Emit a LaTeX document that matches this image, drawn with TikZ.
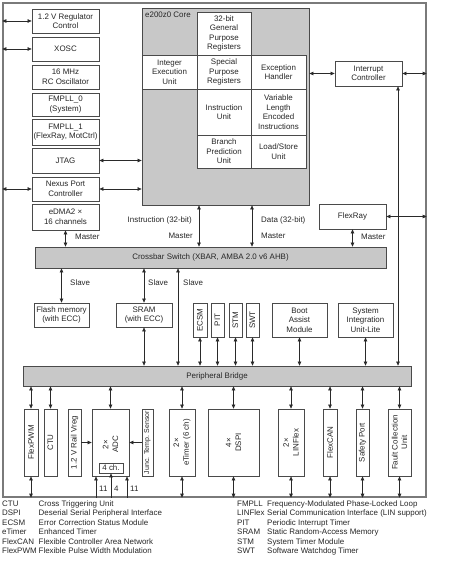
\documentclass[tikz,border=0pt]{standalone}
\usepackage{fontspec}
\setmainfont{Liberation Sans}
\usetikzlibrary{fit,arrows.meta}
\definecolor{boxc}{HTML}{4A4A4A}
\definecolor{linec}{HTML}{2A2A2A}
\definecolor{coreg}{HTML}{C8C8C8}
\definecolor{framec}{HTML}{7A7A7A}
\definecolor{textc}{HTML}{262626}
\newcommand\dfont{\fontsize{7.95}{9.6}\selectfont}
\newcommand\sfont{\fontsize{7}{8}\selectfont}
% box drawn as a fitted rectangle, text laid over its centre
\newcommand\mybox[4][]{%
  \node[box,#1,fit={#3}] (#2) {};
  \node[txt, align=center] (#2-t) at (#2) {#4};}
\newcommand\myvbox[4][]{%
  \node[box,fit={#3}] (#2) {};
  \node[vt,#1] (#2-t) at (#2) {#4};}
\begin{document}
\begin{tikzpicture}[x=1pt,y=-1pt,
  box/.style={draw=boxc, line width=0.8pt, fill=white, inner sep=0pt},
  gbox/.style={box, fill=coreg},
  dbl/.style={draw=linec, line width=0.7pt, {Triangle[length=4pt,width=3.6pt]}-{Triangle[length=4pt,width=3.6pt]}},
  one/.style={draw=linec, line width=0.7pt, -{Triangle[length=4pt,width=3.6pt]}},
  txt/.style={font=\dfont, text=textc, inner sep=0pt},
  vt/.style={txt, rotate=90, align=center},
  lg/.style={font=\dfont, text=textc, inner sep=0pt, anchor=base west},
]
\useasboundingbox (0,0) rectangle (450,564);
% frame
\node[draw=framec, line width=1.3pt, inner sep=0pt, fit={(3,3)(426,497)}] (frame) {};

% left column
\mybox{reg}{(32,9)(99,33)}{1.2 V Regulator\\Control}
\mybox{xosc}{(32,37)(99,61)}{XOSC}
\mybox{rc}{(32,65)(99,89)}{16 MHz\\RC Oscillator}
\mybox{pll0}{(32,93)(99,116)}{FMPLL\_0\\(System)}
\mybox{pll1}{(32,119)(99,145)}{FMPLL\_1\\(FlexRay, MotCtrl)}
\mybox{jtag}{(32,148)(99,173)}{JTAG}
\mybox{nexus}{(32,177)(99,201)}{Nexus Port\\Controller}
\mybox{edma}{(32,204)(99,230)}{eDMA2 ×\\16 channels}

% core
\node[gbox, fit={(142,8)(309,205)}] (core) {};
\node[txt, anchor=north west] (corelbl) at (145,12) {e200z0 Core};
\mybox{gpr}{(197,12)(251,55)}{32-bit\\General\\Purpose\\Registers}
\mybox{ieu}{(142,55)(197,89)}{Integer\\Execution\\Unit}
\mybox{spr}{(197,55)(251,89)}{Special\\Purpose\\Registers}
\mybox{exc}{(251,55)(306,89)}{Exception\\Handler}
\mybox{iu}{(197,89)(251,135)}{Instruction\\Unit}
\mybox{vle}{(251,89)(306,135)}{Variable\\Length\\Encoded\\Instructions}
\mybox{bpu}{(197,135)(251,168)}{Branch\\Prediction\\Unit}
\mybox{lsu}{(251,135)(306,168)}{Load/Store\\Unit}

% right side
\mybox{intc}{(335,61)(402,86)}{Interrupt\\Controller}
\mybox{flexray}{(319,204)(386,229)}{FlexRay}

% crossbar
\mybox[gbox]{xbar}{(35,247)(386,268)}{Crossbar Switch (XBAR, AMBA 2.0 v6 AHB)}

% slaves
\mybox{flash}{(34,303)(89,327)}{Flash memory\\(with ECC)}
\mybox{sram}{(116,303)(172,327)}{SRAM\\(with ECC)}
\myvbox{ecsm}{(193,303)(207,337)}{ECSM}
\myvbox{pit}{(211,303)(224,337)}{PIT}
\myvbox{stm}{(229,303)(242,337)}{STM}
\myvbox{swt}{(246,303)(259,337)}{SWT}
\mybox{bam}{(272,303)(327,337)}{Boot\\Assist\\Module}
\mybox{siul}{(338,303)(393,337)}{System\\Integration\\Unit-Lite}

% peripheral bridge
\mybox[gbox]{pbridge}{(23,366)(411,386)}{Peripheral Bridge}

% bottom row
\myvbox{flexpwm}{(24,409)(38,476)}{FlexPWM}
\myvbox{ctu}{(44,409)(57,476)}{CTU}
\myvbox{vreg}{(68,409)(81,476)}{1.2 V Rail Vreg}
\node[box, fit={(92,409)(129,476)}] (adc) {};
\node[vt] (adc-t) at ([yshift=-2pt]adc.center) {2×\\ADC};
\mybox{ch4}{(99,463)(123,473)}{4 ch.}
\myvbox[font=\sfont]{tsens}{(142,409)(153,476)}{Junc. Temp. Sensor}
\myvbox{etimer}{(169,409)(195,476)}{2×\\eTimer (6 ch)}
\myvbox{dspi}{(208,409)(259,476)}{4×\\DSPI}
\myvbox{linflex}{(278,409)(304,476)}{2×\\LINFlex}
\myvbox{flexcan}{(323,409)(337,476)}{FlexCAN}
\myvbox{safety}{(356,409)(369,476)}{Safety Port}
\myvbox{fcu}{(388,409)(411,476)}{Fault Collection\\Unit}

% helper x positions
\coordinate (xi) at (199,0);
\coordinate (xd) at (252,0);
\coordinate (xs) at (178,0);
\coordinate (xint) at (398,0);
\coordinate (xa) at (96,0);
\coordinate (xb) at (111,0);
\coordinate (xc) at (127,0);

% connectors: left
\draw[dbl] (frame.west |- reg) -- (reg.west);
\draw[dbl] (frame.west |- xosc) -- (xosc.west);
\draw[dbl] (frame.west |- nexus) -- (nexus.west);
\draw[dbl] (jtag.east) -- (jtag.east -| core.west);
\draw[dbl] (nexus.east) -- (nexus.east -| core.west);
% right
\draw[dbl] (core.east |- intc) -- (intc.west);
\draw[dbl] (intc.east) -- (intc.east -| frame.east);
\draw[dbl] (flexray.east) -- (flexray.east -| frame.east);
\draw[dbl] (xint |- intc.south) -- (xint |- pbridge.north);
% masters
\draw[dbl] (edma.south) -- (edma.south |- xbar.north);
\draw[dbl] (xi |- core.south) -- (xi |- xbar.north);
\draw[dbl] (xd |- core.south) -- (xd |- xbar.north);
\draw[dbl] (flexray.south) -- (flexray.south |- xbar.north);
\node[txt, anchor=west] (m1) at (75,237) {Master};
\node[txt, anchor=east] (il) at (192,220) {Instruction (32-bit)};
\node[txt, anchor=east] (m2) at (193,236) {Master};
\node[txt, anchor=west] (dl) at (261,220) {Data (32-bit)};
\node[txt, anchor=west] (m3) at (261,236) {Master};
\node[txt, anchor=west] (m4) at (361,237) {Master};
% slaves
\draw[dbl] (flash.north |- xbar.south) -- (flash.north);
\draw[dbl] (sram.north |- xbar.south) -- (sram.north);
\draw[dbl] (sram.south) -- (sram.south |- pbridge.north);
\draw[dbl] (xs |- xbar.south) -- (xs |- pbridge.north);
\node[txt, anchor=west] (s1) at (70,283) {Slave};
\node[txt, anchor=west] (s2) at (148,283) {Slave};
\node[txt, anchor=west] (s3) at (183,283) {Slave};
\foreach \n in {ecsm,pit,stm,swt,bam,siul}
  \draw[dbl] (\n.south) -- (\n.south |- pbridge.north);
% bottom row
\foreach \n in {flexpwm,ctu,adc,etimer,dspi,linflex,flexcan,safety,fcu}
  \draw[dbl] (\n.north |- pbridge.south) -- (\n.north);
\foreach \n in {flexpwm,etimer,dspi,linflex,flexcan,safety,fcu}
  \draw[dbl] (\n.south) -- (\n.south |- frame.south);
\draw[one] (vreg.east) -- (adc.west |- vreg.east);
\draw[one] (tsens.west) -- (adc.east |- tsens.west);
\draw[one] (xa |- frame.south) -- (xa |- adc.south);
\draw[one] (xb |- frame.south) -- (xb |- ch4.south);
\draw[one] (xc |- frame.south) -- (xc |- adc.south);
\node[txt, anchor=west] (n1) at (99,489) {11};
\node[txt, anchor=west] (n2) at (114,489) {4};
\node[txt, anchor=west] (n3) at (130,489) {11};

% legend
\foreach \y/\a/\b in {506/CTU/Cross Triggering Unit, 515.5/DSPI/Deserial Serial Peripheral Interface, 525/ECSM/Error Correction Status Module, 534.5/eTimer/Enhanced Timer, 544/FlexCAN/Flexible Controller Area Network, 553.5/FlexPWM/Flexible Pulse Width Modulation}{
  \node[lg] at (2,\y) {\a};
  \node[lg] at (38.5,\y) {\b};
}
\foreach \y/\a/\b in {506/FMPLL/Frequency-Modulated Phase-Locked Loop, 515.5/LINFlex/Serial Communication Interface (LIN support), 525/PIT/Periodic Interrupt Timer, 534.5/SRAM/Static Random-Access Memory, 544/STM/System Timer Module, 553.5/SWT/Software Watchdog Timer}{
  \node[lg] at (237,\y) {\a};
  \node[lg] at (267,\y) {\b};
}
\end{tikzpicture}
\end{document}
